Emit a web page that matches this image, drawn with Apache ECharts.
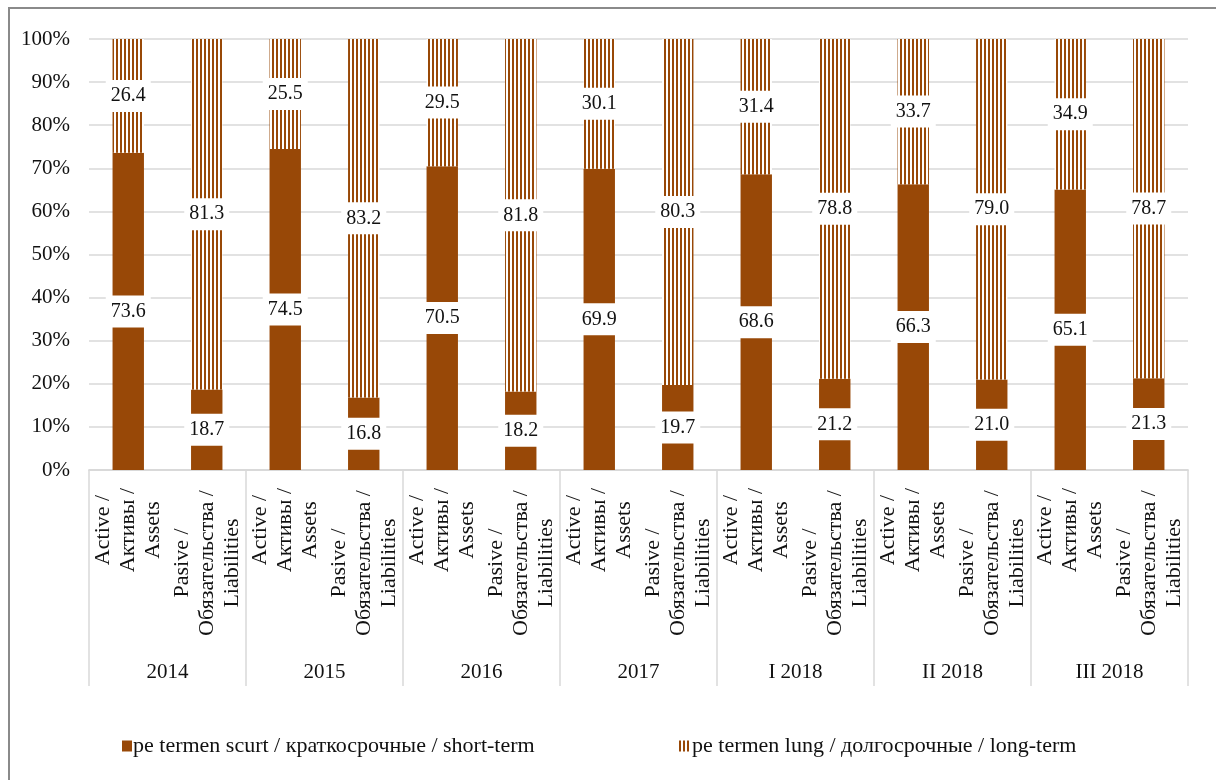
<!DOCTYPE html>
<html>
<head>
<meta charset="utf-8">
<script src="https://cdn.jsdelivr.net/npm/echarts@6/dist/echarts.min.js"></script>
<style>
html,body{margin:0;padding:0;background:#fff;font-family:"Liberation Serif",serif;}
#chart{width:1216px;height:780px;}
</style>
</head>
<body>
<div id="chart"></div>
<script>
// ---- data ----
const years = ['2014', '2015', '2016', '2017', 'I 2018', 'II 2018', 'III 2018'];
const sideLabels = ['Active /\nАктивы /\nAssets', 'Pasive /\nОбязательства /\nLiabilities'];
const assetsShort = [73.6, 74.5, 70.5, 69.9, 68.6, 66.3, 65.1];
const assetsLong = [26.4, 25.5, 29.5, 30.1, 31.4, 33.7, 34.9];
const liabShort = [18.7, 16.8, 18.2, 19.7, 21.2, 21.0, 21.3];
const liabLong = [81.3, 83.2, 81.8, 80.3, 78.8, 79.0, 78.7];
const seriesNames = ['pe termen scurt / краткосрочные / short-term', 'pe termen lung / долгосрочные / long-term'];
const yTicks = [0, 10, 20, 30, 40, 50, 60, 70, 80, 90, 100];

const BROWN = '#984807';
const FONT = '"Liberation Serif", "DejaVu Serif", serif';

// interleave assets / liabilities per year
const categories = [];
const shortVals = [];
const longVals = [];
years.forEach((y, i) => {
  categories.push(sideLabels[0], sideLabels[1]);
  shortVals.push(assetsShort[i], liabShort[i]);
  longVals.push(assetsLong[i], liabLong[i]);
});

// vertical stripe pattern
const pc = document.createElement('canvas');
pc.width = 4; pc.height = 4;
const pctx = pc.getContext('2d');
pctx.fillStyle = '#ffffff'; pctx.fillRect(0, 0, 4, 4);
pctx.fillStyle = BROWN; pctx.fillRect(0, 0, 2, 4);
const stripe = { image: pc, repeat: 'repeat' };

function render() {
  const chart = echarts.init(document.getElementById('chart'), null, { renderer: 'canvas' });

  const labelCommon = {
    show: true,
    position: 'inside',
    color: '#111',
    fontFamily: FONT,
    fontSize: 20,
    backgroundColor: '#ffffff',
    padding: [6, 5, 6, 5],
    formatter: p => Number(p.value).toFixed(1)
  };

  const catRich = {
    a: { align: 'center', width: 94, fontFamily: FONT, fontSize: 22, lineHeight: 25, color: '#111' },
    p: { align: 'center', width: 160, fontFamily: FONT, fontSize: 22, lineHeight: 25, color: '#111' }
  };

  const legendText = { fontFamily: FONT, fontSize: 22, color: '#111', padding: [0, 0, 0, -4] };

  const option = {
    backgroundColor: '#ffffff',
    animation: false,
    textStyle: { fontFamily: FONT },
    graphic: [{
      type: 'rect',
      shape: { x: 9, y: 8, width: 1400, height: 1000 },
      style: { fill: 'none', stroke: '#8a8a8a', lineWidth: 2 },
      silent: true
    }],
    legend: [{
      data: [seriesNames[0]],
      left: 117, top: 730,
      itemWidth: 10, itemHeight: 11, itemGap: 10,
      textStyle: legendText,
      icon: 'rect'
    }, {
      data: [seriesNames[1]],
      left: 674, top: 730,
      itemWidth: 12, itemHeight: 11, itemGap: 10,
      textStyle: legendText,
      icon: 'rect'
    }],
    grid: { left: 89, right: 28, top: 39, bottom: 310, containLabel: false },
    xAxis: [{
      type: 'category',
      data: categories,
      position: 'bottom',
      axisLine: { show: true, lineStyle: { color: '#d9d9d9', width: 1.5 } },
      axisTick: { show: false },
      axisLabel: {
        interval: 0,
        rotate: 90,
        margin: 13,
        fontFamily: FONT,
        fontSize: 22,
        lineHeight: 25,
        color: '#111',
        formatter: v => {
          const key = v.indexOf('Pasive') === 0 ? 'p' : 'a';
          return v.split('\n').map(s => '{' + key + '|' + s + '}').join('\n');
        },
        rich: catRich
      }
    }, {
      type: 'category',
      data: years,
      position: 'bottom',
      axisLine: { show: true, lineStyle: { color: '#d9d9d9', width: 1.5 } },
      axisTick: { show: true, length: 216, lineStyle: { color: '#d9d9d9', width: 1.5 } },
      axisLabel: { interval: 0, margin: 192, fontFamily: FONT, fontSize: 21, color: '#111' }
    }],
    yAxis: {
      type: 'value',
      min: 0, max: 100, interval: 10,
      axisLine: { show: false },
      axisTick: { show: false },
      splitLine: { lineStyle: { color: '#d9d9d9', width: 1.5 } },
      axisLabel: {
        margin: 19,
        fontFamily: FONT,
        fontSize: 21,
        color: '#111',
        formatter: v => (yTicks.indexOf(v) >= 0 ? v + '%' : '')
      }
    },
    series: [{
      name: seriesNames[0],
      type: 'bar',
      stack: 'total',
      xAxisIndex: 0,
      barWidth: '40%',
      data: shortVals,
      itemStyle: { color: BROWN },
      label: labelCommon
    }, {
      name: seriesNames[1],
      type: 'bar',
      stack: 'total',
      xAxisIndex: 0,
      barWidth: '40%',
      data: longVals,
      itemStyle: { color: stripe },
      label: labelCommon
    }]
  };

  chart.setOption(option);
}

if (document.fonts && document.fonts.load) {
  Promise.all([
    document.fonts.load('20px "Liberation Serif"'),
    document.fonts.load('20px "Liberation Serif"', 'Обязательства')
  ]).then(render, render);
} else {
  render();
}
</script>
</body>
</html>
